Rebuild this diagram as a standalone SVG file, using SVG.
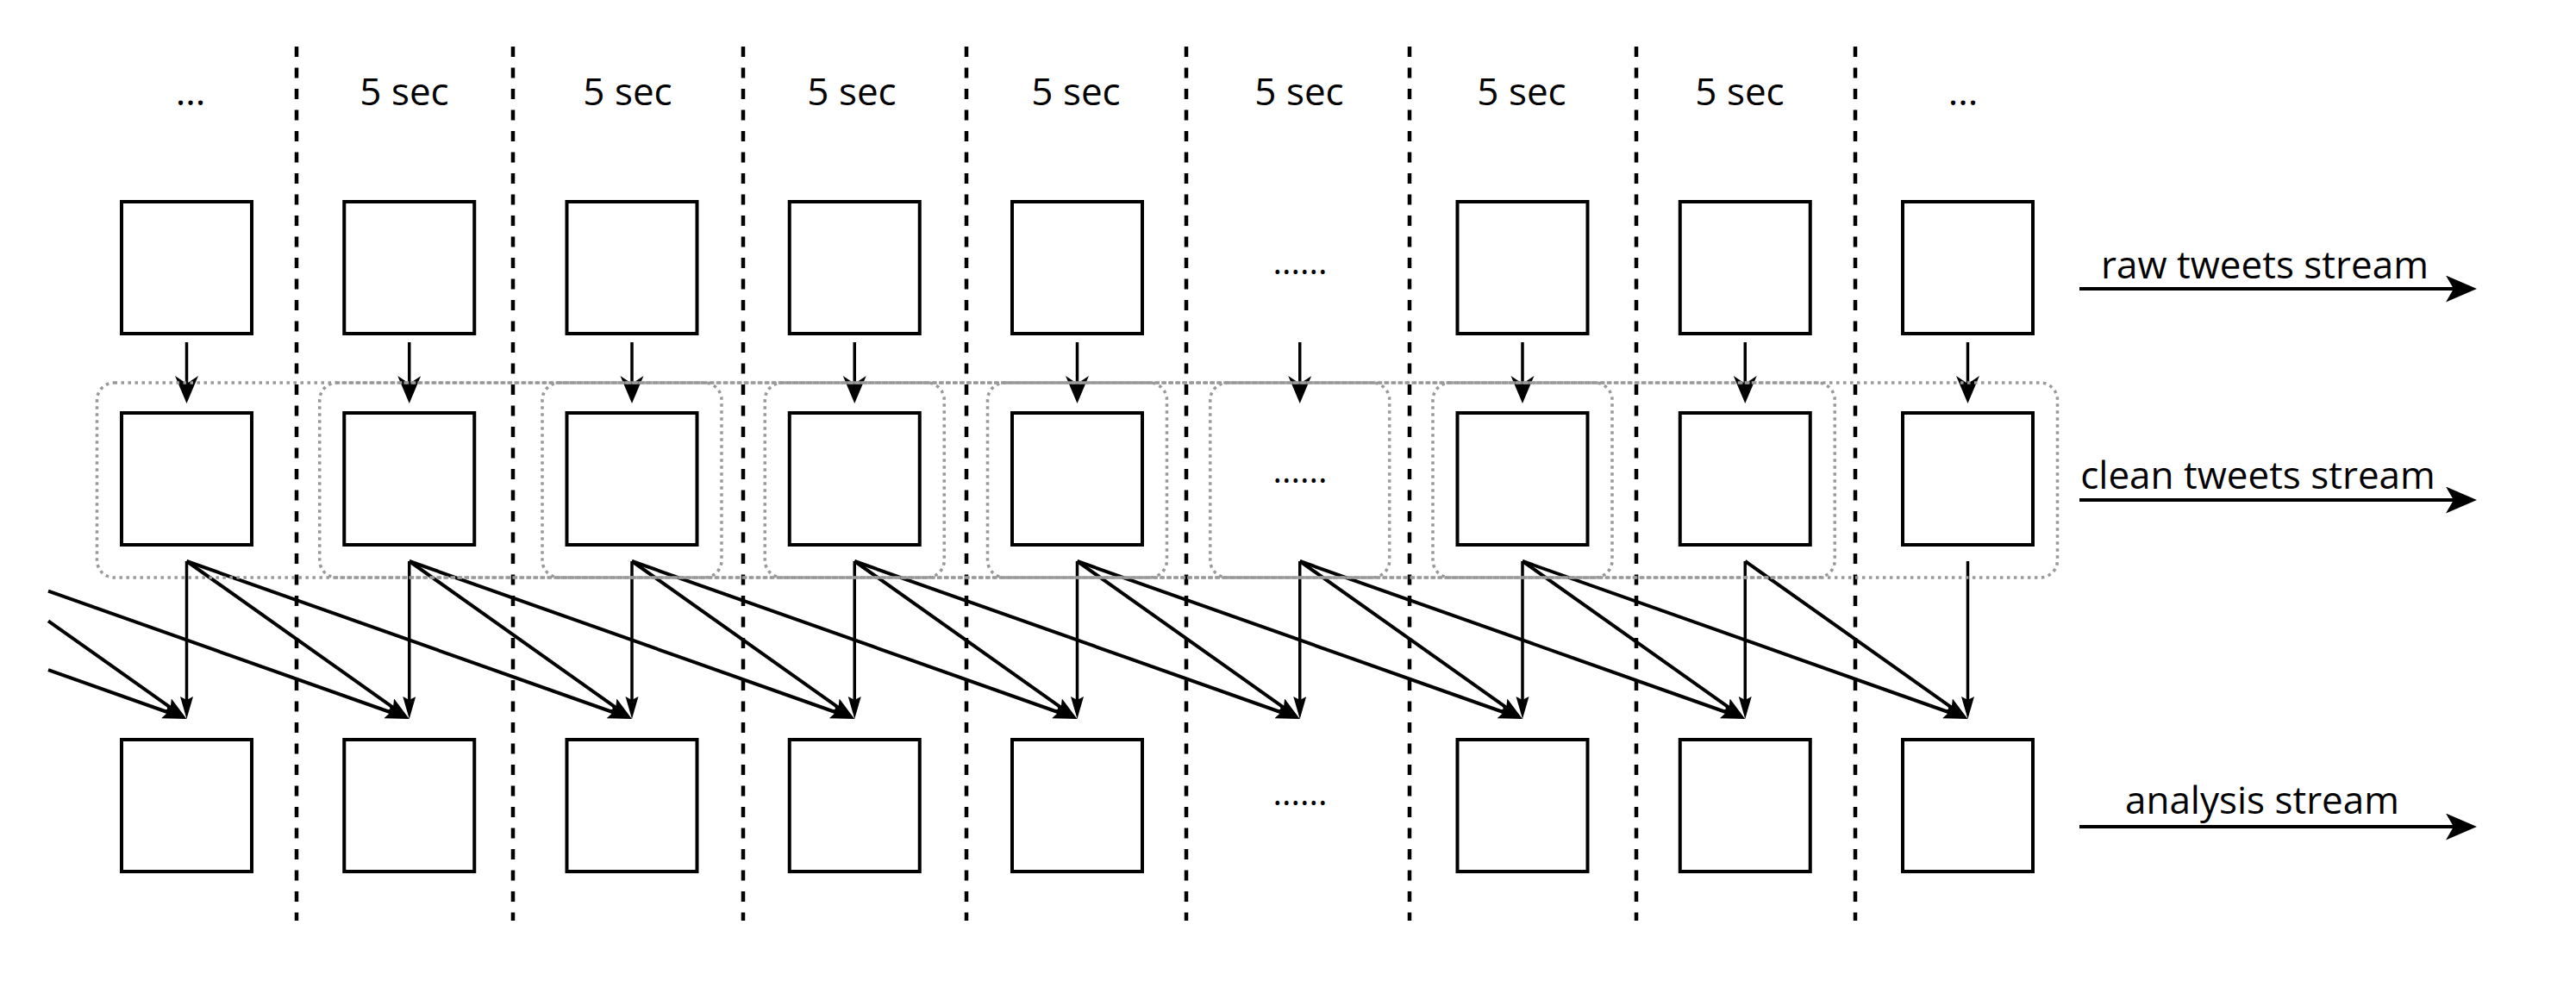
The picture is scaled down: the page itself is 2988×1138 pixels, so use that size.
<svg xmlns="http://www.w3.org/2000/svg" width="2988" height="1138" viewBox="0 0 2988 1138">
<style>
.box{fill:#fff;stroke:#000;stroke-width:4}
.sep{stroke:#000;stroke-width:4.5;stroke-dasharray:12 12.5;fill:none}
.win{fill:none;stroke:#999;stroke-width:3.5;stroke-dasharray:3.5 4.5}
.t{font-family:"Open Sans","Noto Sans","DejaVu Sans",sans-serif;font-size:44px;fill:#000;text-anchor:middle}
.dots{font-family:"Open Sans","Noto Sans","DejaVu Sans",sans-serif;font-size:40px;fill:#000;text-anchor:middle}
.down{stroke:#000;stroke-width:3.5;fill:none;marker-end:url(#mTop)}
.v{stroke:#000;stroke-width:3.5;fill:none;marker-end:url(#mV)}
.d{stroke:#000;stroke-width:4;fill:none;marker-end:url(#mD)}
.s{stroke:#000;stroke-width:4;fill:none;marker-end:url(#mS)}
</style>
<defs>
<marker id="mTop" markerUnits="userSpaceOnUse" markerWidth="34" markerHeight="29" refX="18" refY="13.5" orient="auto"><path d="M0,0 L32,13.5 L0,27 L9,13.5 z" fill="#000"/></marker>
<marker id="mV" markerUnits="userSpaceOnUse" markerWidth="28" markerHeight="17" refX="14" refY="7.5" orient="auto"><path d="M0,0 L26,7.5 L0,15 L4,7.5 z" fill="#000"/></marker>
<marker id="mD" markerUnits="userSpaceOnUse" markerWidth="30" markerHeight="20" refX="16" refY="9" orient="auto"><path d="M0,0 L28,9 L0,18 L5,9 z" fill="#000"/></marker>
<marker id="mS" markerUnits="userSpaceOnUse" markerWidth="38" markerHeight="33" refX="22" refY="15.5" orient="auto"><path d="M0,0 L36,15.5 L0,31 L9,15.5 z" fill="#000"/></marker>
</defs>
<rect width="2988" height="1138" fill="#fff"/>

<g id="separators">
<line class="sep" x1="344" y1="54" x2="344" y2="1068"/>
<line class="sep" x1="595" y1="54" x2="595" y2="1068"/>
<line class="sep" x1="862" y1="54" x2="862" y2="1068"/>
<line class="sep" x1="1121" y1="54" x2="1121" y2="1068"/>
<line class="sep" x1="1376" y1="54" x2="1376" y2="1068"/>
<line class="sep" x1="1635" y1="54" x2="1635" y2="1068"/>
<line class="sep" x1="1898" y1="54" x2="1898" y2="1068"/>
<line class="sep" x1="2152" y1="54" x2="2152" y2="1068"/>
</g>

<g id="time-labels">
<text class="t" x="221" y="122">...</text>
<text class="t" x="469" y="122">5 sec</text>
<text class="t" x="728" y="122">5 sec</text>
<text class="t" x="988" y="122">5 sec</text>
<text class="t" x="1248" y="122">5 sec</text>
<text class="t" x="1507" y="122">5 sec</text>
<text class="t" x="1765" y="122">5 sec</text>
<text class="t" x="2018" y="122">5 sec</text>
<text class="t" x="2277" y="122">...</text>
</g>

<g id="raw-row">
<g id="raw1"><rect class="box" x="141" y="234" width="151" height="153"/></g>
<g id="raw2"><rect class="box" x="399.25" y="234" width="151" height="153"/></g>
<g id="raw3"><rect class="box" x="657.5" y="234" width="151" height="153"/></g>
<g id="raw4"><rect class="box" x="915.75" y="234" width="151" height="153"/></g>
<g id="raw5"><rect class="box" x="1174" y="234" width="151" height="153"/></g>
<g id="raw6"><text class="dots" x="1508" y="318">......</text></g>
<g id="raw7"><rect class="box" x="1690.5" y="234" width="151" height="153"/></g>
<g id="raw8"><rect class="box" x="1948.75" y="234" width="151" height="153"/></g>
<g id="raw9"><rect class="box" x="2207" y="234" width="151" height="153"/></g>
</g>

<g id="clean-row">
<g id="clean1"><rect class="box" x="141" y="479" width="151" height="153"/></g>
<g id="clean2"><rect class="box" x="399.25" y="479" width="151" height="153"/></g>
<g id="clean3"><rect class="box" x="657.5" y="479" width="151" height="153"/></g>
<g id="clean4"><rect class="box" x="915.75" y="479" width="151" height="153"/></g>
<g id="clean5"><rect class="box" x="1174" y="479" width="151" height="153"/></g>
<g id="clean6"><text class="dots" x="1508" y="560">......</text></g>
<g id="clean7"><rect class="box" x="1690.5" y="479" width="151" height="153"/></g>
<g id="clean8"><rect class="box" x="1948.75" y="479" width="151" height="153"/></g>
<g id="clean9"><rect class="box" x="2207" y="479" width="151" height="153"/></g>
</g>

<g id="analysis-row">
<g id="ana1"><rect class="box" x="141" y="858" width="151" height="153"/></g>
<g id="ana2"><rect class="box" x="399.25" y="858" width="151" height="153"/></g>
<g id="ana3"><rect class="box" x="657.5" y="858" width="151" height="153"/></g>
<g id="ana4"><rect class="box" x="915.75" y="858" width="151" height="153"/></g>
<g id="ana5"><rect class="box" x="1174" y="858" width="151" height="153"/></g>
<g id="ana6"><text class="dots" x="1508" y="934">......</text></g>
<g id="ana7"><rect class="box" x="1690.5" y="858" width="151" height="153"/></g>
<g id="ana8"><rect class="box" x="1948.75" y="858" width="151" height="153"/></g>
<g id="ana9"><rect class="box" x="2207" y="858" width="151" height="153"/></g>
</g>

<g id="connectors">
<line class="down" x1="216.5" y1="397" x2="216.5" y2="454"/>
<line class="down" x1="474.75" y1="397" x2="474.75" y2="454"/>
<line class="down" x1="733" y1="397" x2="733" y2="454"/>
<line class="down" x1="991.25" y1="397" x2="991.25" y2="454"/>
<line class="down" x1="1249.5" y1="397" x2="1249.5" y2="454"/>
<line class="down" x1="1507.75" y1="397" x2="1507.75" y2="454"/>
<line class="down" x1="1766" y1="397" x2="1766" y2="454"/>
<line class="down" x1="2024.25" y1="397" x2="2024.25" y2="454"/>
<line class="down" x1="2282.5" y1="397" x2="2282.5" y2="454"/>

<line class="v" x1="216.5" y1="651" x2="216.5" y2="822"/>
<line class="v" x1="474.75" y1="651" x2="474.75" y2="822"/>
<line class="v" x1="733" y1="651" x2="733" y2="822"/>
<line class="v" x1="991.25" y1="651" x2="991.25" y2="822"/>
<line class="v" x1="1249.5" y1="651" x2="1249.5" y2="822"/>
<line class="v" x1="1507.75" y1="651" x2="1507.75" y2="822"/>
<line class="v" x1="1766" y1="651" x2="1766" y2="822"/>
<line class="v" x1="2024.25" y1="651" x2="2024.25" y2="822"/>
<line class="v" x1="2282.5" y1="651" x2="2282.5" y2="822"/>

<line class="d" x1="56" y1="685.6" x2="463.44" y2="829.99"/>
<line class="d" x1="56" y1="720.3" x2="206.71" y2="827.06"/>
<line class="d" x1="56" y1="777.1" x2="205.19" y2="829.99"/>

<line class="d" x1="216.5" y1="651" x2="464.96" y2="827.06"/>
<line class="d" x1="216.5" y1="651" x2="721.69" y2="829.99"/>
<line class="d" x1="474.75" y1="651" x2="723.21" y2="827.06"/>
<line class="d" x1="474.75" y1="651" x2="979.94" y2="829.99"/>
<line class="d" x1="733" y1="651" x2="981.46" y2="827.06"/>
<line class="d" x1="733" y1="651" x2="1238.19" y2="829.99"/>
<line class="d" x1="991.25" y1="651" x2="1239.71" y2="827.06"/>
<line class="d" x1="991.25" y1="651" x2="1496.44" y2="829.99"/>
<line class="d" x1="1249.5" y1="651" x2="1497.96" y2="827.06"/>
<line class="d" x1="1249.5" y1="651" x2="1754.69" y2="829.99"/>
<line class="d" x1="1507.75" y1="651" x2="1756.21" y2="827.06"/>
<line class="d" x1="1507.75" y1="651" x2="2012.94" y2="829.99"/>
<line class="d" x1="1766" y1="651" x2="2014.46" y2="827.06"/>
<line class="d" x1="1766" y1="651" x2="2271.19" y2="829.99"/>
<line class="d" x1="2024.25" y1="651" x2="2272.71" y2="827.06"/>

<line class="s" x1="2412" y1="335" x2="2859" y2="335"/>
<line class="s" x1="2412" y1="580" x2="2859" y2="580"/>
<line class="s" x1="2412" y1="959" x2="2859" y2="959"/>
</g>

<g id="windows">
<rect class="win" x="112.5" y="444" width="724.5" height="226" rx="20"/>
<rect class="win" x="370.75" y="444" width="724.5" height="226" rx="20"/>
<rect class="win" x="629" y="444" width="724.5" height="226" rx="20"/>
<rect class="win" x="887.25" y="444" width="724.5" height="226" rx="20"/>
<rect class="win" x="1145.5" y="444" width="724.5" height="226" rx="20"/>
<rect class="win" x="1403.75" y="444" width="724.5" height="226" rx="20"/>
<rect class="win" x="1662" y="444" width="724.5" height="226" rx="20"/>
</g>

<g id="stream-labels">
<text class="t" x="2627" y="323">raw tweets stream</text>
<text class="t" x="2619" y="567">clean tweets stream</text>
<text class="t" x="2624" y="944">analysis stream</text>
</g>
</svg>
